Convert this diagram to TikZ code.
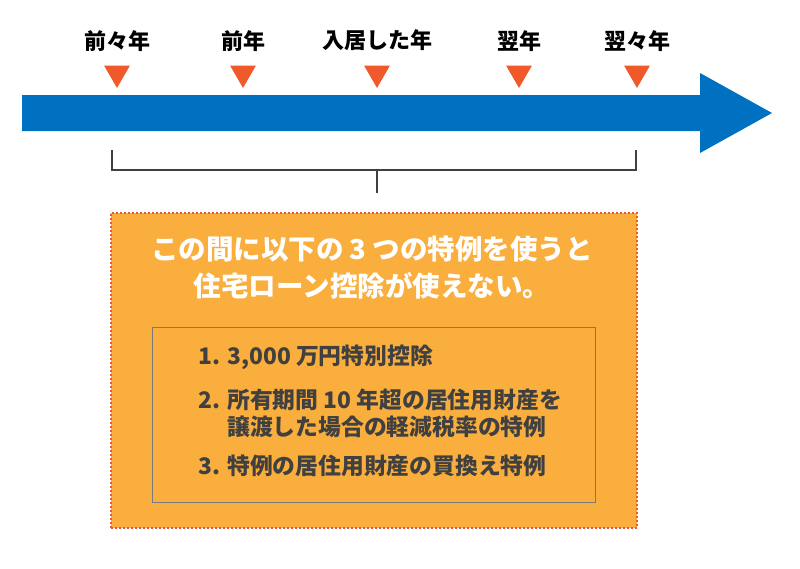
\documentclass[tikz,border=0pt]{standalone}
\usepackage{fontspec}
\setmainfont{Noto Sans CJK JP}
\usetikzlibrary{shapes.geometric,positioning}
\definecolor{arrowblue}{HTML}{0070C0}
\definecolor{mark}{HTML}{F0592A}
\definecolor{boxfill}{HTML}{F9AE3E}
\definecolor{ink}{HTML}{404040}
\tikzset{
  yearmark/.style={regular polygon,regular polygon sides=3,shape border rotate=180,
    fill=mark,inner sep=0pt,minimum size=30pt},
  yearlabel/.style={font=\bfseries\fontsize{22}{24}\selectfont,inner sep=0pt},
  item/.style={font=\bfseries\fontsize{22.8}{27}\selectfont,text=ink,align=left,anchor=west}
}
\begin{document}
\begin{tikzpicture}[x=1pt,y=-1pt]
\useasboundingbox (0,0) rectangle (800,568);
% time axis
\fill[arrowblue] (22,95) -- (700,95) -- (700,73) -- (772,113) -- (700,153) -- (700,131) -- (22,131) -- cycle;
\node (m1) [yearmark] at (117,73) {};
\node (m2) [yearmark] at (243,73) {};
\node (m3) [yearmark] at (377,73) {};
\node (m4) [yearmark] at (519,73) {};
\node (m5) [yearmark] at (637,73) {};
\foreach \m/\t in {m1/前々年,m2/前年,m3/入居した年,m4/翌年,m5/翌々年}
  \node [yearlabel,above=14pt of \m.north] {\t};
% bracket
\coordinate (bl) at (112,150);
\coordinate (br) at (636,150);
\coordinate (bt) at (377,193);
\draw[ink,line width=1.5pt] (bl) -- ++(0,20) -| (br);
\draw[ink,line width=1.5pt] (bt|-0,170) -- (bt);
% box
\node (outer) [draw=mark,dashed,dash pattern=on 2pt off 2pt,line width=1.8pt,fill=boxfill,
  minimum width=526pt,minimum height=315pt,anchor=north west] at (110,212) {};
\node (title) [text=white,align=center,font=\bfseries\fontsize{27.5}{37}\selectfont] at (372,268)
  {この間に以下の 3 つの特例を使うと\\住宅ローン控除が使えない。};
\node (inner) [draw=ink!70,line width=0.6pt,minimum width=443pt,minimum height=175pt,
  anchor=north west] at (152,327) {};
\node (i1) [item] at (195,357) {1. 3,000 万円特別控除};
\node (i2) [item] at (195,413) {2. 所有期間 10 年超の居住用財産を\\\phantom{2. }譲渡した場合の軽減税率の特例};
\node (i3) [item] at (195,466) {3. 特例の居住用財産の買換え特例};
\end{tikzpicture}
\end{document}
